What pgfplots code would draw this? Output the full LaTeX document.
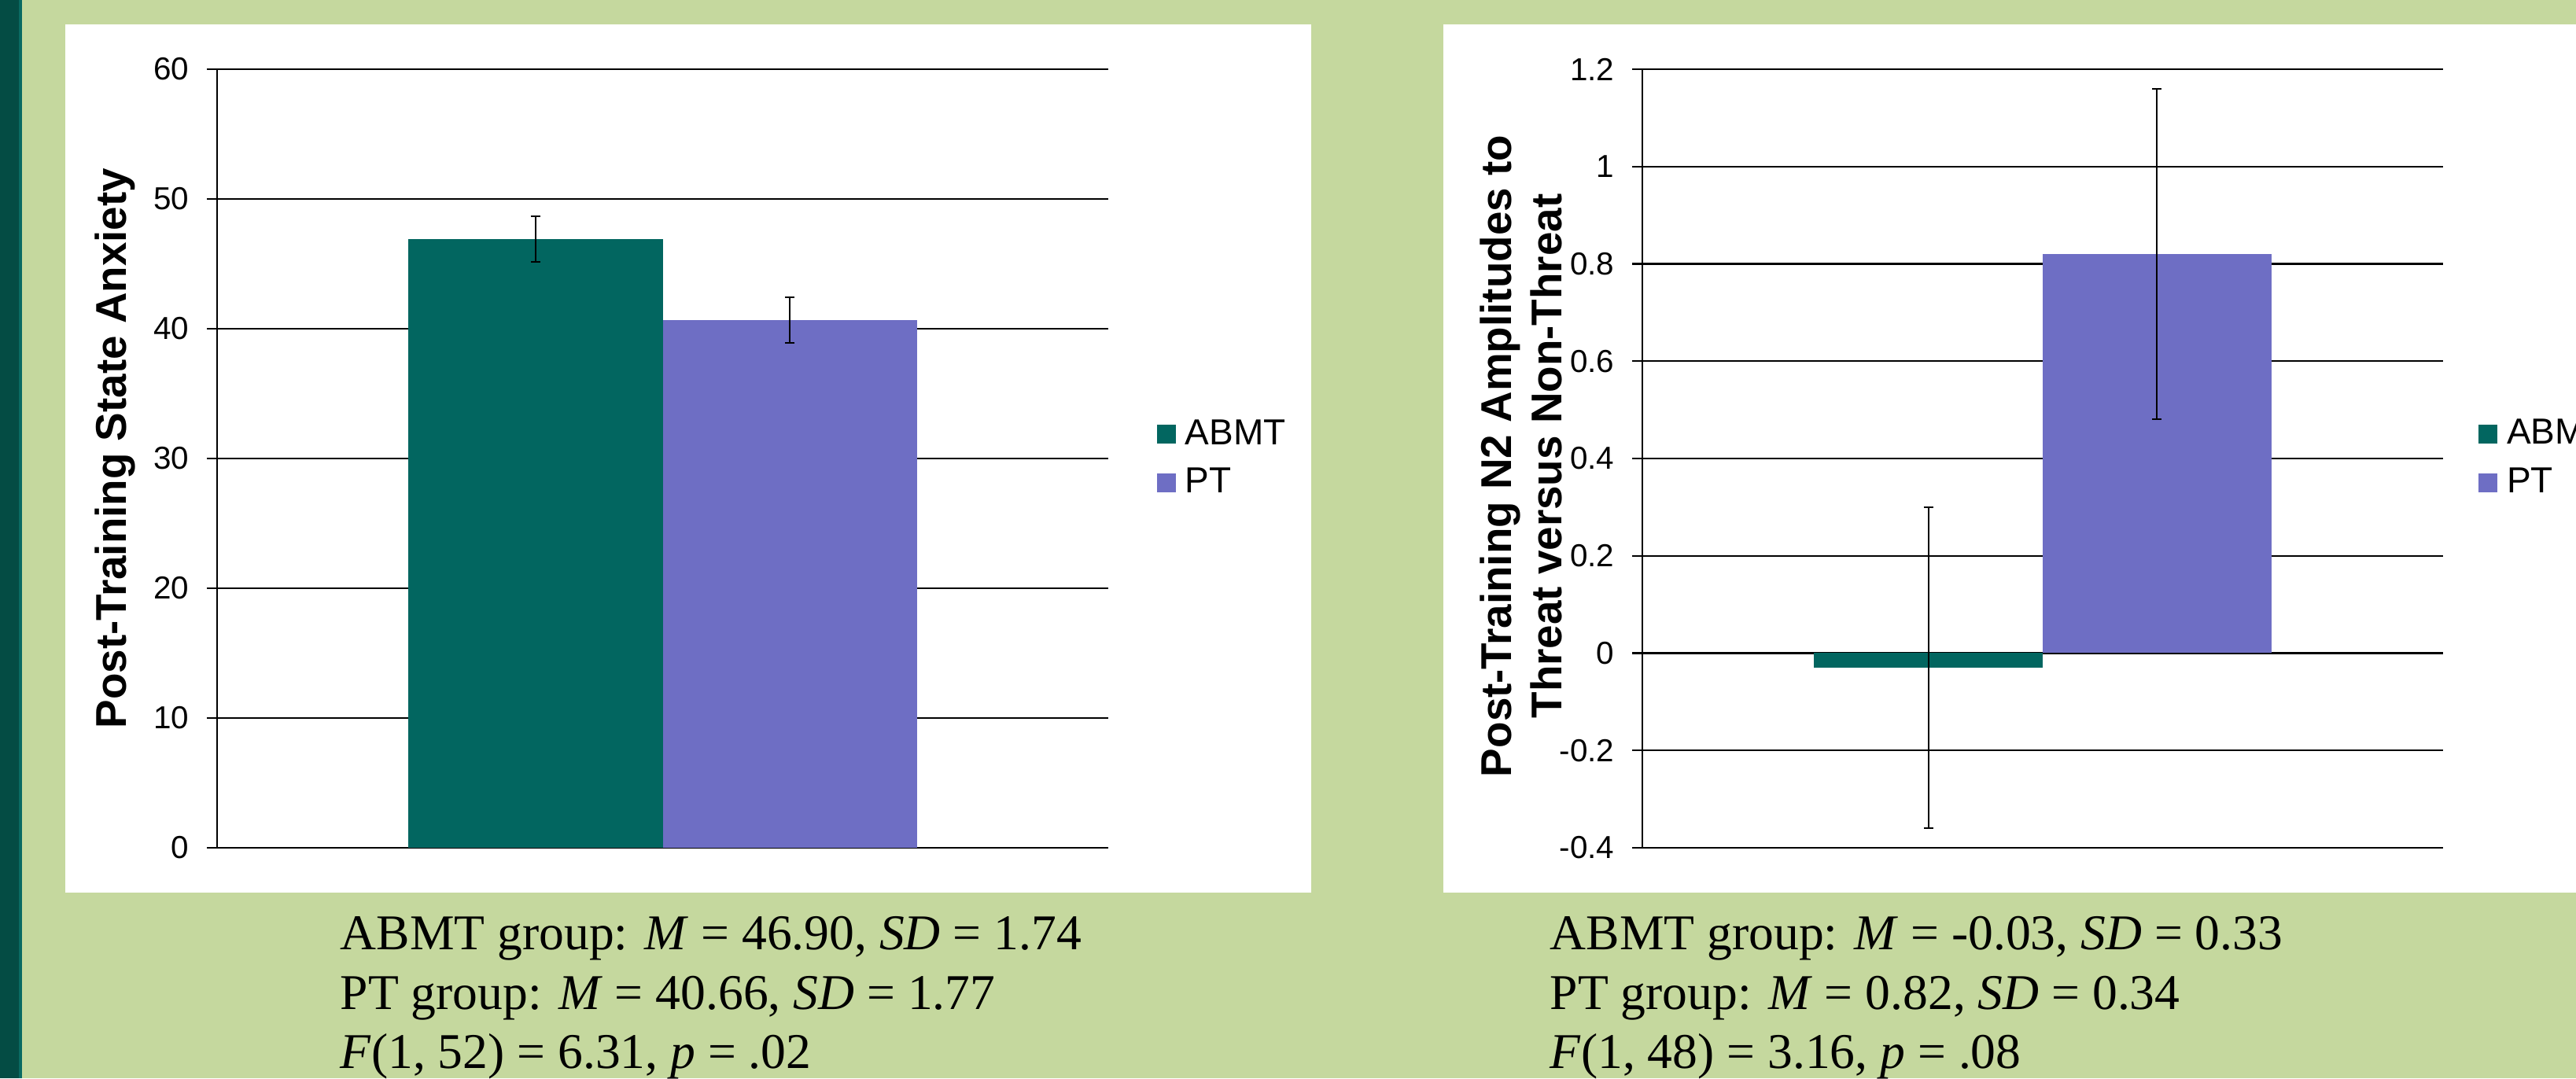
\documentclass[border=0pt]{standalone}
\usepackage{pgfplots}
\pgfplotsset{compat=1.18}
\usepackage{fontspec}
\setmainfont{Liberation Sans}
\newfontfamily\tnr{Liberation Serif}
\definecolor{bggreen}{HTML}{C5D89E}
\definecolor{stripe}{HTML}{044C44}
\definecolor{stripeedge}{HTML}{0A6A62}
\definecolor{abmt}{HTML}{026660}
\definecolor{ptc}{HTML}{6E6EC4}
\pgfplotsset{
  myaxis/.style={
    scale only axis,
    anchor=south west,
    ybar,
    bar width=1,
    axis x line=none,
    axis y line*=left,
    ymajorgrids,
    major grid style={black, line width=0.6pt},
    axis line style={black, line width=0.6pt},
    ytick style={black, line width=0.6pt},
    major tick length=3.25pt,
    tick align=outside,
    xmin=-1.75, xmax=1.75,
    xtick=\empty,
    yticklabel shift=5.5pt,
    yticklabel style={font=\fontsize{10.1}{12}\selectfont, inner sep=0pt, anchor=east},
    ylabel style={font=\bfseries\fontsize{13.7}{16}\selectfont, anchor=center, align=center},
    error bars/y dir=both,
    error bars/y explicit,
    error bars/error bar style={draw=black, line width=0.5pt},
    error bars/error mark options={rotate=90, mark size=1.5pt, draw=black, line width=0.5pt},
    legend style={draw=none, fill=none, inner sep=0pt, outer sep=0pt,
      font=\fontsize{11.5}{13}\selectfont, anchor=west, row sep=6pt,
      nodes={inner sep=0pt}, column sep=3pt},
    legend cell align=left,
    legend image code/.code={\fill[##1] (0pt,-3pt) rectangle (6pt,3pt);},
  }
}
\begin{document}
\begin{tikzpicture}
\useasboundingbox (0,0) rectangle (818.75pt,342.75pt);
\clip (0,0) rectangle (818.75pt,342.75pt);
\fill[bggreen] (0,0) rectangle (818.75pt,342.75pt);
\fill[stripe] (0,0) rectangle (6pt,342.75pt);
\fill[stripeedge] (6pt,0) rectangle (6.9pt,342.75pt);
\fill[white] (20.75pt,59pt) rectangle (416.75pt,335pt);
\fill[white] (458.75pt,59pt) rectangle (830pt,335pt);

\begin{axis}[myaxis, at={(69pt,73.25pt)}, width=283.25pt, height=247.5pt,
  ymin=0, ymax=60, ytick={0,10,20,30,40,50,60},
  yticklabels={0,10,20,30,40,50,60},
  ylabel={Post-Training State Anxiety},
  ylabel style={at={(axis description cs:-0.1139,0.513)}},
  legend style={at={(axis description cs:1.0547,0.5)}}]
\addplot[fill=abmt, draw=none, bar shift=0pt] coordinates {(-0.5,46.90) +- (0,1.74)};
\addplot[fill=ptc, draw=none, bar shift=0pt] coordinates {(0.5,40.66) +- (0,1.77)};
\legend{ABMT,PT}
\end{axis}

\begin{axis}[myaxis, at={(522pt,73.25pt)}, width=254.5pt, height=247.5pt,
  ymin=-0.4, ymax=1.2, ytick={-0.4,-0.2,0,0.2,0.4,0.6,0.8,1,1.2},
  yticklabels={-0.4,-0.2,0,0.2,0.4,0.6,0.8,1,1.2},
  ylabel={Post-Training N2 Amplitudes to\\Threat versus Non-Threat},
  ylabel style={at={(axis description cs:-0.1518,0.503)}},
  legend style={at={(axis description cs:1.0442,0.5)}}]
\addplot[fill=abmt, draw=none, bar shift=0pt] coordinates {(-0.5,-0.03) +- (0,0.33)};
\addplot[fill=ptc, draw=none, bar shift=0pt] coordinates {(0.5,0.82) +- (0,0.34)};
\legend{ABMT,PT}
\end{axis}

\begin{scope}[every node/.style={anchor=base west, inner sep=0pt}, font=\tnr\fontsize{15.9}{19}\selectfont]
\node at (108pt,41pt) {ABMT group: \textit{M} = 46.90, \textit{SD} = 1.74};
\node at (108pt,22pt) {PT group: \textit{M} = 40.66, \textit{SD} = 1.77};
\node at (108pt,3.25pt) {\textit{F}(1, 52) = 6.31, \textit{p} = .02};
\node at (492.5pt,41pt) {ABMT group: \textit{M} = -0.03, \textit{SD} = 0.33};
\node at (492.5pt,22pt) {PT group: \textit{M} = 0.82, \textit{SD} = 0.34};
\node at (492.5pt,3.25pt) {\textit{F}(1, 48) = 3.16, \textit{p} = .08};
\end{scope}
\end{tikzpicture}
\end{document}
